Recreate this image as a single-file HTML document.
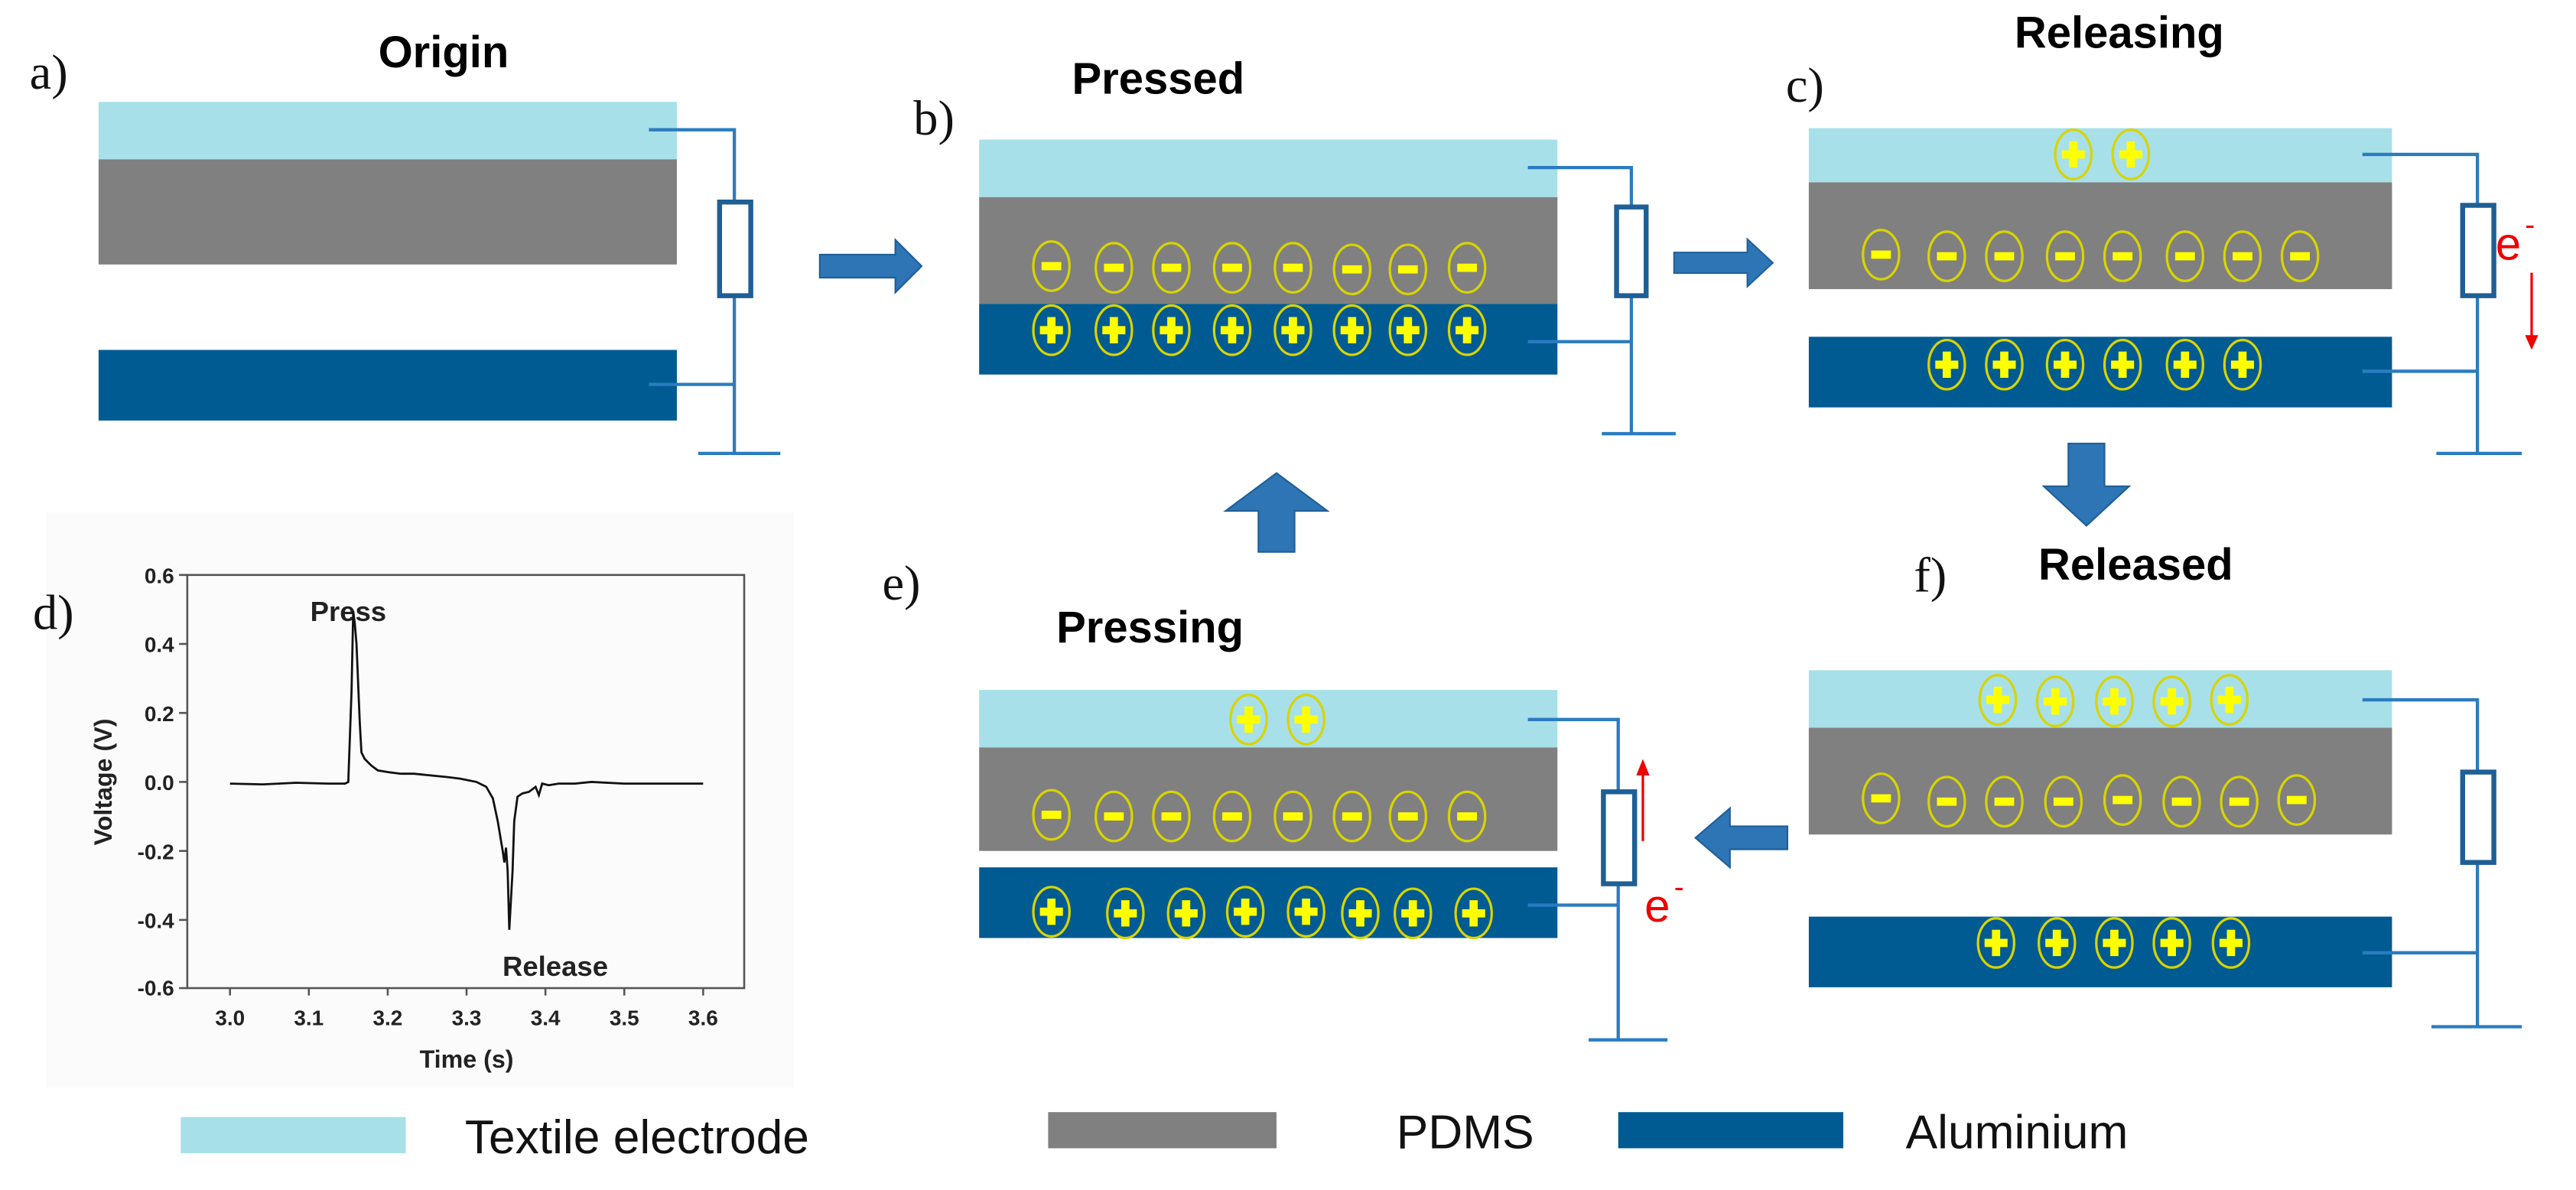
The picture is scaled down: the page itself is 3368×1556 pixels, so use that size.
<!DOCTYPE html>
<html><head><meta charset="utf-8"><style>
html,body{margin:0;padding:0;background:#fff;}
svg{display:block;}
.lbl{font-family:"Liberation Serif",serif;font-size:30px;fill:#111;}
.ttl{font-family:"Liberation Sans",sans-serif;font-weight:bold;font-size:27px;fill:#000;}
.leg{font-family:"Liberation Sans",sans-serif;font-size:29px;fill:#111;}
.ax{font-family:"Liberation Sans",sans-serif;font-weight:bold;font-size:13px;fill:#222;}
.w{stroke:#2a7cc0;stroke-width:2;fill:none;}
</style></head><body>
<svg width="3368" height="1556" viewBox="0 0 1568 724.4" xmlns="http://www.w3.org/2000/svg">
<defs>
<g id="m"><ellipse cx="0" cy="0" rx="11" ry="15" fill="none" stroke="#d8d400" stroke-width="1.5"/><rect x="-6" y="-2.5" width="12" height="5" fill="#ffff00"/></g>
<g id="p"><ellipse cx="0" cy="0" rx="11" ry="15" fill="none" stroke="#d8d400" stroke-width="1.5"/><rect x="-7" y="-2.5" width="14" height="5" fill="#ffff00"/><rect x="-2.5" y="-8" width="5" height="16" fill="#ffff00"/></g>
<g id="arR"><polygon points="0,-7 46,-7 46,-16 62,0 46,16 46,7 0,7" fill="#2e75b6" stroke="#1f5f96" stroke-width="1"/></g>
</defs>
<rect width="1568" height="724.4" fill="#fff"/>

<!-- Panel a -->
<text class="lbl" x="18" y="54">a)</text>
<text class="ttl" x="270" y="41" text-anchor="middle">Origin</text>
<rect x="60" y="62" width="352" height="35" fill="#a8e0ea"/>
<rect x="60" y="97" width="352" height="64" fill="#808080"/>
<rect x="60" y="213" width="352" height="43" fill="#005b92"/>
<path class="w" d="M395 79H447V123M447 180V276M395 234H447M425 276H475"/>
<rect x="438" y="123" width="19" height="57" fill="#fff" stroke="#1e5f95" stroke-width="3"/>
<use href="#arR" x="499" y="162"/>

<!-- Panel b -->
<text class="lbl" x="556" y="82">b)</text>
<text class="ttl" x="705" y="57" text-anchor="middle">Pressed</text>
<rect x="596" y="85" width="352" height="35" fill="#a8e0ea"/>
<rect x="596" y="120" width="352" height="65" fill="#808080"/>
<rect x="596" y="185" width="352" height="43" fill="#005b92"/>
<use href="#m" x="640" y="162"/><use href="#m" x="678" y="163"/><use href="#m" x="713" y="163"/><use href="#m" x="750" y="163"/><use href="#m" x="787" y="163"/><use href="#m" x="823" y="164"/><use href="#m" x="857" y="164"/><use href="#m" x="893" y="163"/>
<use href="#p" x="640" y="201"/><use href="#p" x="678" y="201"/><use href="#p" x="713" y="201"/><use href="#p" x="750" y="201"/><use href="#p" x="787" y="201"/><use href="#p" x="823" y="201"/><use href="#p" x="857" y="201"/><use href="#p" x="893" y="201"/>
<path class="w" d="M930 102H993V126M993 180V264M930 208H993M975 264H1020"/>
<rect x="984" y="126" width="18" height="54" fill="#fff" stroke="#1e5f95" stroke-width="3"/>
<use href="#arR" x="1019" y="160" transform="translate(1019 160) scale(0.97 0.9) translate(-1019 -160)"/>

<!-- Panel c -->
<text class="lbl" x="1087" y="62">c)</text>
<text class="ttl" x="1290" y="29" text-anchor="middle">Releasing</text>
<rect x="1101" y="78" width="355" height="33" fill="#a8e0ea"/>
<rect x="1101" y="111" width="355" height="65" fill="#808080"/>
<rect x="1101" y="205" width="355" height="43" fill="#005b92"/>
<use href="#p" x="1262" y="94"/><use href="#p" x="1297" y="94"/>
<use href="#m" x="1145" y="155"/><use href="#m" x="1185" y="156"/><use href="#m" x="1220" y="156"/><use href="#m" x="1257" y="156"/><use href="#m" x="1292" y="156"/><use href="#m" x="1330" y="156"/><use href="#m" x="1365" y="156"/><use href="#m" x="1400" y="156"/>
<use href="#p" x="1185" y="222"/><use href="#p" x="1220" y="222"/><use href="#p" x="1257" y="222"/><use href="#p" x="1292" y="222"/><use href="#p" x="1330" y="222"/><use href="#p" x="1365" y="222"/>
<path class="w" d="M1438 94H1508V125M1508 180V276M1438 226H1508M1483 276H1535"/>
<rect x="1499" y="125" width="19" height="55" fill="#fff" stroke="#1e5f95" stroke-width="3"/>
<text x="1519" y="158" font-family="Liberation Sans,sans-serif" font-size="28" fill="#e00">e</text>
<text x="1537" y="143" font-family="Liberation Sans,sans-serif" font-size="18" fill="#e00">-</text>
<line x1="1541" y1="166" x2="1541" y2="205" stroke="#e00" stroke-width="1.5"/>
<polygon points="1537,204 1545,204 1541,213" fill="#e00"/>
<polygon points="1259,270 1281,270 1281,296 1296,296 1270,320 1244,296 1259,296" fill="#2e75b6" stroke="#1f5f96" stroke-width="1"/>

<!-- Panel f -->
<text class="lbl" x="1165" y="360">f)</text>
<text class="ttl" x="1300" y="353" text-anchor="middle">Released</text>
<rect x="1101" y="408" width="355" height="35" fill="#a8e0ea"/>
<rect x="1101" y="443" width="355" height="65" fill="#808080"/>
<rect x="1101" y="558" width="355" height="43" fill="#005b92"/>
<use href="#p" x="1216" y="426"/><use href="#p" x="1251" y="427"/><use href="#p" x="1287" y="427"/><use href="#p" x="1322" y="427"/><use href="#p" x="1357" y="426"/>
<use href="#m" x="1145" y="486"/><use href="#m" x="1185" y="488"/><use href="#m" x="1220" y="488"/><use href="#m" x="1256" y="488"/><use href="#m" x="1292" y="487"/><use href="#m" x="1328" y="488"/><use href="#m" x="1363" y="488"/><use href="#m" x="1398" y="487"/>
<use href="#p" x="1215" y="574"/><use href="#p" x="1252" y="574"/><use href="#p" x="1287" y="574"/><use href="#p" x="1322" y="574"/><use href="#p" x="1358" y="574"/>
<path class="w" d="M1438 426H1508V470M1508 525V625M1438 580H1508M1480 625H1535"/>
<rect x="1499" y="470" width="19" height="55" fill="#fff" stroke="#1e5f95" stroke-width="3"/>
<polygon points="1088,503 1088,517 1053,517 1053,528 1032,510 1053,492 1053,503" fill="#2e75b6" stroke="#1f5f96" stroke-width="1"/>

<!-- Panel e -->
<text class="lbl" x="537" y="365">e)</text>
<text class="ttl" x="700" y="391" text-anchor="middle">Pressing</text>
<rect x="596" y="420" width="352" height="35" fill="#a8e0ea"/>
<rect x="596" y="455" width="352" height="63" fill="#808080"/>
<rect x="596" y="528" width="352" height="43" fill="#005b92"/>
<use href="#p" x="760" y="438"/><use href="#p" x="795" y="438"/>
<use href="#m" x="640" y="496"/><use href="#m" x="678" y="497"/><use href="#m" x="713" y="497"/><use href="#m" x="750" y="497"/><use href="#m" x="787" y="497"/><use href="#m" x="823" y="497"/><use href="#m" x="857" y="497"/><use href="#m" x="893" y="497"/>
<use href="#p" x="640" y="555"/><use href="#p" x="685" y="556"/><use href="#p" x="722" y="556"/><use href="#p" x="758" y="555"/><use href="#p" x="795" y="555"/><use href="#p" x="828" y="556"/><use href="#p" x="860" y="556"/><use href="#p" x="897" y="556"/>
<path class="w" d="M930 438H985V482M985 538V633M930 551H985M967 633H1015"/>
<rect x="976" y="482" width="19" height="56" fill="#fff" stroke="#1e5f95" stroke-width="3"/>
<line x1="1000" y1="512" x2="1000" y2="470" stroke="#e00" stroke-width="1.5"/>
<polygon points="996,472 1004,472 1000,462" fill="#e00"/>
<text x="1001" y="561" font-family="Liberation Sans,sans-serif" font-size="28" fill="#e00">e</text>
<text x="1019" y="546" font-family="Liberation Sans,sans-serif" font-size="18" fill="#e00">-</text>
<polygon points="766,336 788,336 788,311 808,311 777,288 746,311 766,311" fill="#2e75b6" stroke="#1f5f96" stroke-width="1"/>

<!-- Panel d graph -->
<rect x="28" y="312" width="455" height="350" fill="#fbfbfb"/>
<text class="lbl" x="20" y="383">d)</text>
<rect x="114" y="350" width="339" height="251.5" fill="none" stroke="#555" stroke-width="1.2"/>
<g stroke="#555" stroke-width="1.2">
<line x1="114" y1="350" x2="109" y2="350"/><line x1="114" y1="392" x2="109" y2="392"/><line x1="114" y1="434" x2="109" y2="434"/><line x1="114" y1="476" x2="109" y2="476"/><line x1="114" y1="518" x2="109" y2="518"/><line x1="114" y1="560" x2="109" y2="560"/><line x1="114" y1="601.5" x2="109" y2="601.5"/>
<line x1="140" y1="601.5" x2="140" y2="606"/><line x1="188" y1="601.5" x2="188" y2="606"/><line x1="236" y1="601.5" x2="236" y2="606"/><line x1="284" y1="601.5" x2="284" y2="606"/><line x1="332" y1="601.5" x2="332" y2="606"/><line x1="380" y1="601.5" x2="380" y2="606"/><line x1="428" y1="601.5" x2="428" y2="606"/>
</g>
<g class="ax" text-anchor="end">
<text x="106" y="355">0.6</text><text x="106" y="397">0.4</text><text x="106" y="439">0.2</text><text x="106" y="481">0.0</text><text x="106" y="523">-0.2</text><text x="106" y="565">-0.4</text><text x="106" y="606">-0.6</text>
</g>
<g class="ax" text-anchor="middle">
<text x="140" y="624">3.0</text><text x="188" y="624">3.1</text><text x="236" y="624">3.2</text><text x="284" y="624">3.3</text><text x="332" y="624">3.4</text><text x="380" y="624">3.5</text><text x="428" y="624">3.6</text>
<text x="284" y="650" font-size="15">Time (s)</text>
<text transform="translate(68 476) rotate(-90)" font-size="15">Voltage (V)</text>
<text x="212" y="378" font-size="17">Press</text>
<text x="338" y="594" font-size="17">Release</text>
</g>
<polyline fill="none" stroke="#111" stroke-width="1.3" points="140,477 160,477.5 180,476.5 200,477 210,477 212,476 214,420 215,372 216,380 217,392 219,440 220,458 222,462 226,466 230,469 236,470 244,471 252,471 262,472 272,473 280,474 290,476 296,479 300,486 303,500 306,518 307,525 308,516 309,530 310,566 312,530 313,500 315,485 318,483 322,482 326,479 328,484 330,477 334,478 340,477 350,477 360,476 380,477 400,477 420,477 428,477"/>

<!-- Legend -->
<rect x="110" y="680" width="137" height="22" fill="#a8e0ea"/>
<text class="leg" x="283" y="702">Textile electrode</text>
<rect x="638" y="677" width="139" height="22" fill="#808080"/>
<text class="leg" x="850" y="699">PDMS</text>
<rect x="985" y="677" width="137" height="22" fill="#005b92"/>
<text class="leg" x="1160" y="699">Aluminium</text>
</svg>
</body></html>
